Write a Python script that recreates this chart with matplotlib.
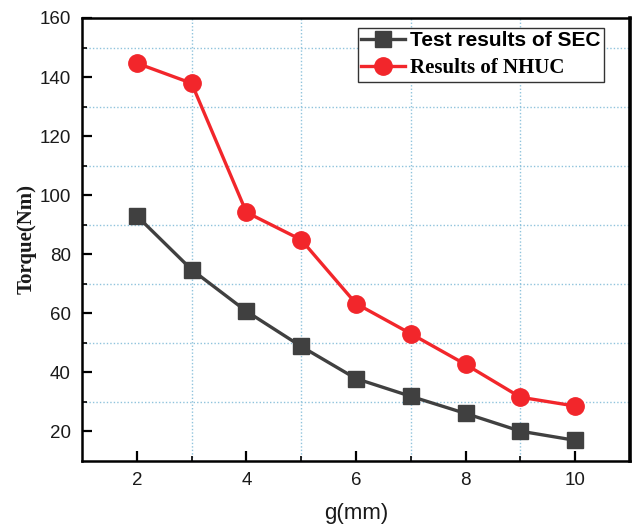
import matplotlib
matplotlib.use("Agg")
import matplotlib.pyplot as plt
from matplotlib.ticker import MultipleLocator, FixedLocator

# Air-gap length (mm) and torque (Nm)
gap_mm = [2, 3, 4, 5, 6, 7, 8, 9, 10]
torque_sec = [93.0, 74.8, 60.7, 48.8, 37.9, 31.9, 26.1, 20.1, 17.0]
torque_nhuc = [144.7, 137.9, 94.2, 84.9, 63.3, 53.1, 42.7, 31.6, 28.6]
label_sec = "Test results of SEC"
label_nhuc = "Results of NHUC"

sans = "Liberation Sans"
serif = "Liberation Serif"

fig = plt.figure(figsize=(6.32, 5.26), dpi=100)
ax = fig.add_axes([82 / 632, 1 - 461 / 526, (630 - 82) / 632, (461 - 18) / 526])

gray = "#404040"
red = "#f2262b"

ax.plot(gap_mm, torque_sec, color=gray, lw=2.4, marker="s", ms=11.5,
        mfc=gray, mec=gray, label=label_sec, zorder=4)
ax.plot(gap_mm, torque_nhuc, color=red, lw=2.4, marker="o", ms=12.5,
        mfc=red, mec=red, label=label_nhuc, zorder=4)

ax.set_xlim(1, 11)
ax.set_ylim(10, 160)
ax.xaxis.set_major_locator(FixedLocator([2, 4, 6, 8, 10]))
ax.xaxis.set_minor_locator(FixedLocator([3, 5, 7, 9]))
ax.yaxis.set_major_locator(MultipleLocator(20))
ax.yaxis.set_minor_locator(FixedLocator([30, 50, 70, 90, 110, 130, 150]))

ax.grid(which="minor", color="#8fc3dc", linestyle=(0, (1, 1.5)), lw=1.0)
ax.grid(which="major", visible=False)
ax.set_axisbelow(True)

ax.tick_params(which="major", direction="in", length=7, width=1.6,
               labelsize=13.5, pad=8)
ax.tick_params(which="minor", direction="in", length=3.5, width=1.2)
for lab in ax.get_xticklabels() + ax.get_yticklabels():
    lab.set_fontfamily(sans)
    lab.set_color("#1a1a1a")

for side in ["left", "bottom", "top"]:
    ax.spines[side].set_linewidth(1.8)
ax.spines["right"].set_linewidth(2.6)

ax.set_xlabel("g(mm)", fontsize=16, fontfamily=sans, color="#1a1a1a", labelpad=10)
ax.set_ylabel("Torque(Nm)", fontsize=15, fontfamily=serif, fontweight="bold",
              color="#1a1a1a", labelpad=2)

leg = ax.legend(loc="upper right", bbox_to_anchor=((604 - 82) / 548, 1 - 10 / 443),
                borderaxespad=0, fancybox=False, framealpha=1,
                edgecolor="#333333", handlelength=2.1, handletextpad=0.25,
                borderpad=0.15, labelspacing=0.4, prop={"size": 15})
leg.get_frame().set_linewidth(1.0)
texts = leg.get_texts()
texts[0].set_fontfamily(sans)
texts[0].set_fontweight("bold")
texts[1].set_fontfamily(serif)
texts[1].set_fontweight("bold")

fig.savefig("out.png", dpi=100)
